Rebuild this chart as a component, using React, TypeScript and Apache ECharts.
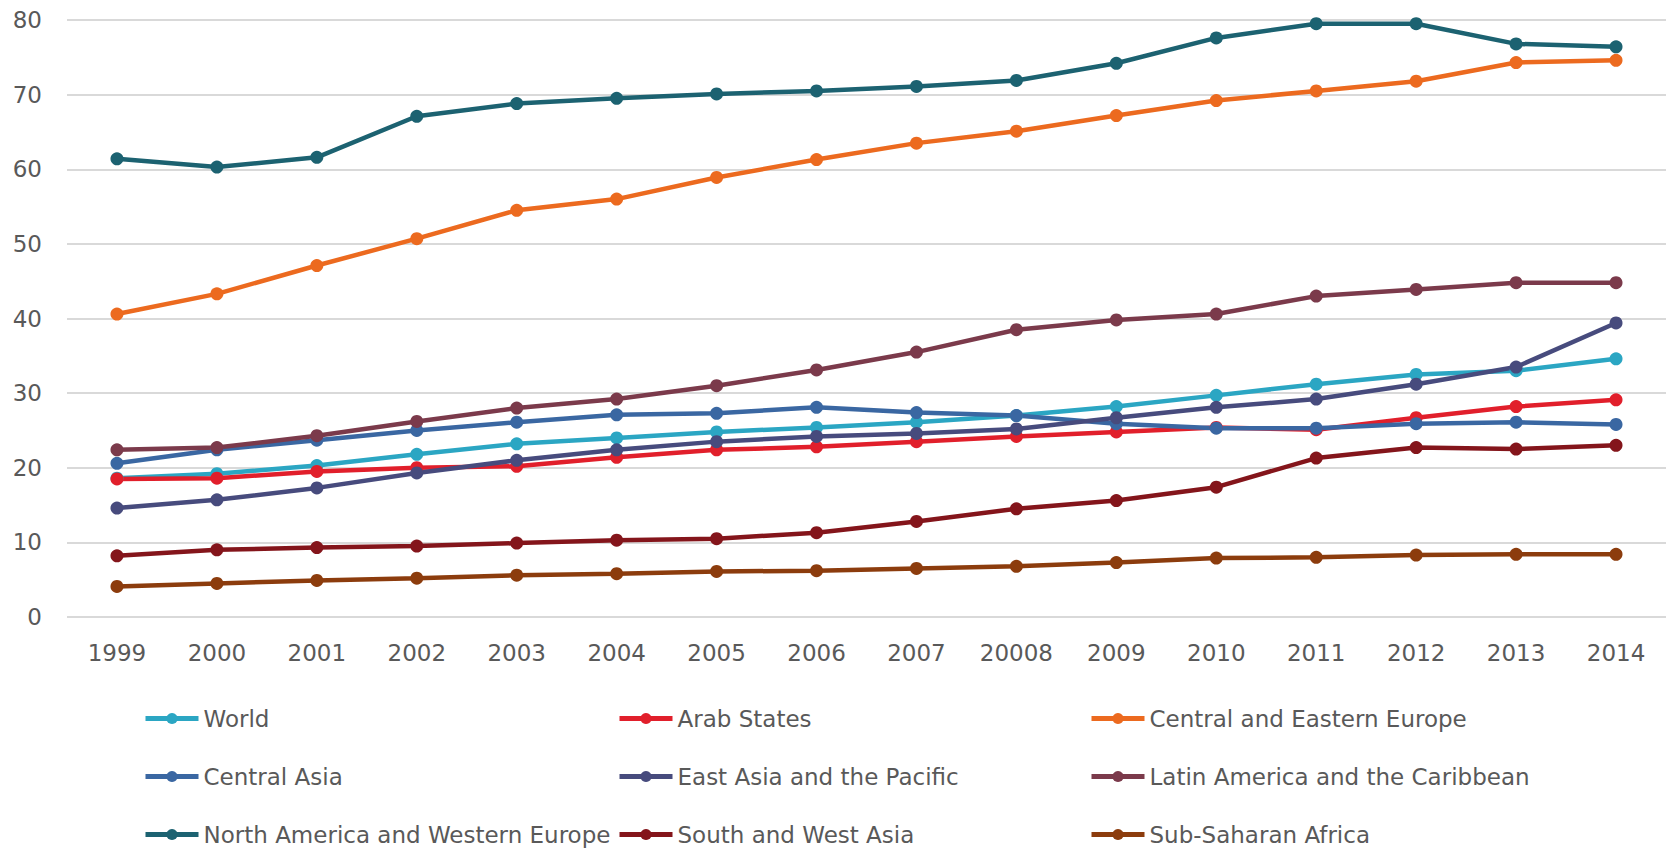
import React, { useEffect, useRef } from "react";
import * as echarts from "echarts";

// Years along the horizontal axis (the 2008 tick reads "20008" on the source chart)
const years = [
  "1999", "2000", "2001", "2002", "2003", "2004", "2005", "2006",
  "2007", "20008", "2009", "2010", "2011", "2012", "2013", "2014",
];

const world = [18.6, 19.2, 20.3, 21.8, 23.2, 24.0, 24.8, 25.4, 26.1, 27.0, 28.2, 29.7, 31.2, 32.5, 33.0, 34.6];
const arabStates = [18.5, 18.6, 19.5, 20.0, 20.2, 21.4, 22.4, 22.8, 23.5, 24.2, 24.8, 25.4, 25.1, 26.7, 28.2, 29.1];
const centralEasternEurope = [40.6, 43.3, 47.1, 50.7, 54.5, 56.0, 58.9, 61.3, 63.5, 65.1, 67.2, 69.2, 70.5, 71.8, 74.3, 74.6];
const centralAsia = [20.6, 22.4, 23.7, 25.0, 26.1, 27.1, 27.3, 28.1, 27.4, 27.0, 25.9, 25.3, 25.3, 25.9, 26.1, 25.8];
const eastAsiaPacific = [14.6, 15.7, 17.3, 19.3, 21.0, 22.4, 23.5, 24.2, 24.6, 25.2, 26.7, 28.1, 29.2, 31.2, 33.5, 39.4];
const latinAmerica = [22.4, 22.7, 24.3, 26.2, 28.0, 29.2, 31.0, 33.1, 35.5, 38.5, 39.8, 40.6, 43.0, 43.9, 44.8, 44.8];
const northAmericaWesternEurope = [61.4, 60.3, 61.6, 67.1, 68.8, 69.5, 70.1, 70.5, 71.1, 71.9, 74.2, 77.6, 79.5, 79.5, 76.8, 76.4];
const southWestAsia = [8.2, 9.0, 9.3, 9.5, 9.9, 10.3, 10.5, 11.3, 12.8, 14.5, 15.6, 17.4, 21.3, 22.7, 22.5, 23.0];
const subSaharanAfrica = [4.1, 4.5, 4.9, 5.2, 5.6, 5.8, 6.1, 6.2, 6.5, 6.8, 7.3, 7.9, 8.0, 8.3, 8.4, 8.4];

const seriesNames = [
  "World",
  "Arab States",
  "Central and Eastern Europe",
  "Central Asia",
  "East Asia and the Pacific",
  "Latin America and the Caribbean",
  "North America and Western Europe",
  "South and West Asia",
  "Sub-Saharan Africa",
];

const seriesValues = [
  world,
  arabStates,
  centralEasternEurope,
  centralAsia,
  eastAsiaPacific,
  latinAmerica,
  northAmericaWesternEurope,
  southWestAsia,
  subSaharanAfrica,
];

const seriesColors = [
  "#2BA6C3",
  "#E11F2B",
  "#EC6A1F",
  "#3A67A2",
  "#474B7D",
  "#7B3A4B",
  "#1C6271",
  "#84151B",
  "#8C3C0D",
];

// Legend columns, each listed top to bottom
const legendColumns = [
  ["World", "Central Asia", "North America and Western Europe"],
  ["Arab States", "East Asia and the Pacific", "South and West Asia"],
  ["Central and Eastern Europe", "Latin America and the Caribbean", "Sub-Saharan Africa"],
];
const legendLefts = [143, 617, 1089];

const yTicks = [0, 10, 20, 30, 40, 50, 60, 70, 80];

const FONT = "'DejaVu Sans', Verdana, sans-serif";
const TEXT_COLOR = "#595959";

export default function App() {
  const ref = useRef<HTMLDivElement>(null);

  useEffect(() => {
    if (!ref.current) return;
    const chart = echarts.init(ref.current, undefined, { renderer: "svg" });

    const option = {
      animation: false,
      backgroundColor: "#ffffff",
      textStyle: { fontFamily: FONT },
      grid: { left: 67, right: 5, top: 20, bottom: 231, containLabel: false },
      xAxis: {
        type: "category",
        data: years,
        boundaryGap: true,
        axisLine: { show: false },
        axisTick: { show: false },
        axisLabel: {
          color: TEXT_COLOR,
          fontSize: 23,
          fontFamily: FONT,
          margin: 24,
        },
      },
      yAxis: {
        type: "value",
        min: yTicks[0],
        max: yTicks[yTicks.length - 1],
        interval: 10,
        axisLine: { show: false },
        axisTick: { show: false },
        splitLine: { lineStyle: { color: "#D9D9D9", width: 2 } },
        axisLabel: {
          color: TEXT_COLOR,
          fontSize: 23,
          fontFamily: FONT,
          margin: 25,
        },
      },
      legend: legendColumns.map((names, i) => ({
        data: names,
        orient: "vertical",
        left: legendLefts[i],
        top: 707,
        padding: 0,
        itemGap: 35,
        itemWidth: 53,
        itemHeight: 14,
        selectedMode: false,
        lineStyle: { width: 5 },
        textStyle: {
          color: TEXT_COLOR,
          fontSize: 23,
          fontFamily: FONT,
          lineHeight: 23,
        },
      })),
      series: seriesNames.map((name, i) => ({
        name,
        type: "line",
        data: seriesValues[i],
        color: seriesColors[i],
        symbol: "circle",
        symbolSize: 13,
        lineStyle: { width: 4.5, color: seriesColors[i] },
        itemStyle: { color: seriesColors[i] },
      })),
    };

    chart.setOption(option);
    return () => chart.dispose();
  }, []);

  return (
    <div
      ref={ref}
      style={{ position: "fixed", left: 0, top: 0, width: 1671, height: 848 }}
    />
  );
}
